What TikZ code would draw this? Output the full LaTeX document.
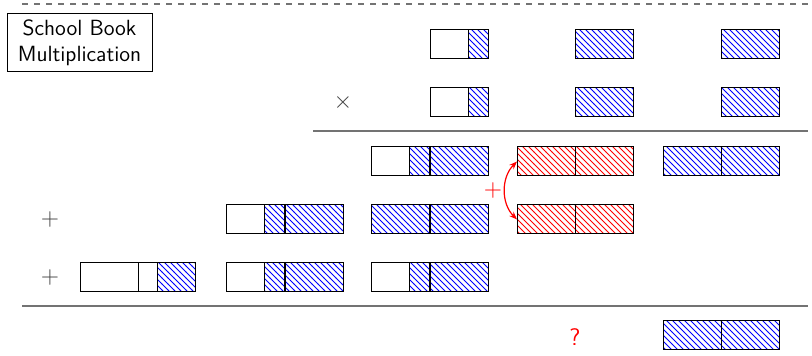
\documentclass[tikz,border=0pt]{standalone}
\usetikzlibrary{patterns,arrows.meta}
\begin{document}
\begin{tikzpicture}[x=0.5pt,y=-0.5pt,
  seg/.style={draw=black,line width=0.5pt,rectangle,inner sep=0pt,outer sep=0pt,
    minimum height=14.5pt,anchor=north west},
  full/.style={seg,minimum width=29pt},
  twothird/.style={seg,minimum width=19.333pt},
  third/.style={seg,minimum width=9.667pt},
  bluehatch/.style={pattern=north west lines,pattern color=blue},
  redhatch/.style={pattern=north west lines,pattern color=red},
  rule/.style={draw=black!55,line width=0.8pt},
  sign/.style={inner sep=0pt,font=\sffamily\large,text=black!75}]
\useasboundingbox (0,0) rectangle (812,356);

% top separator
\draw[rule,line width=0.6pt,dashed] (22,4) -- (812,4);

% title
\node[draw=black,line width=0.5pt,align=center,inner sep=3pt,font=\sffamily\fontsize{11}{13}\selectfont,
  minimum width=72.5pt,minimum height=29pt] (title) at (79.5,43) {School Book\\Multiplication};

% first factor
\node[twothird] (a1) at (430,30) {};
\node[third,bluehatch] (a2) at (468.67,30) {};
\node[full,bluehatch] (a3) at (575,30) {};
\node[full,bluehatch] (a4) at (721,30) {};

% second factor
\node[sign] (times) at (343,103) {$\times$};
\node[twothird] (b1) at (430,88) {};
\node[third,bluehatch] (b2) at (468.67,88) {};
\node[full,bluehatch] (b3) at (575,88) {};
\node[full,bluehatch] (b4) at (721,88) {};

\coordinate (l1a) at (313,131);
\coordinate (l1b) at (808,131);
\draw[rule] (l1a) -- (l1b);

% partial products, row 1
\node[twothird] (c1) at (371,147) {};
\node[third,bluehatch] (c2) at (409.67,147) {};
\node[full,bluehatch] (c3) at (430,147) {};
\node[full,redhatch] (c4) at (517,147) {};
\node[full,redhatch] (c5) at (575,147) {};
\node[full,bluehatch] (c6) at (663,147) {};
\node[full,bluehatch] (c7) at (721,147) {};

% partial products, row 2
\node[sign] (plus1) at (50,220) {$+$};
\node[twothird] (d1) at (226,205) {};
\node[third,bluehatch] (d2) at (264.67,205) {};
\node[full,bluehatch] (d3) at (285,205) {};
\node[full,bluehatch] (d4) at (371,205) {};
\node[full,bluehatch] (d5) at (430,205) {};
\node[full,redhatch] (d6) at (517,205) {};
\node[full,redhatch] (d7) at (575,205) {};

% carry between the red words
\node[sign,text=red] (plusr) at (493,191) {$+$};
\draw[red,line width=0.6pt,{Stealth[length=4pt,width=3pt]}-{Stealth[length=4pt,width=3pt]}]
  (c4.west) to[bend right=45] (d6.west);

% partial products, row 3
\node[sign] (plus2) at (50,278) {$+$};
\node[full] (e1) at (80,263) {};
\node[third] (e2) at (138,263) {};
\node[twothird,bluehatch] (e3) at (157.33,263) {};
\node[twothird] (e4) at (226,263) {};
\node[third,bluehatch] (e5) at (264.67,263) {};
\node[full,bluehatch] (e6) at (285,263) {};
\node[twothird] (e7) at (371,263) {};
\node[third,bluehatch] (e8) at (409.67,263) {};
\node[full,bluehatch] (e9) at (430,263) {};

\coordinate (l2a) at (22,306);
\coordinate (l2b) at (808,306);
\draw[rule] (l2a) -- (l2b);

% result
\node[sign,text=red] (q) at (575,337) {?};
\node[full,bluehatch] (f1) at (663,321) {};
\node[full,bluehatch] (f2) at (721,321) {};
\end{tikzpicture}
\end{document}
